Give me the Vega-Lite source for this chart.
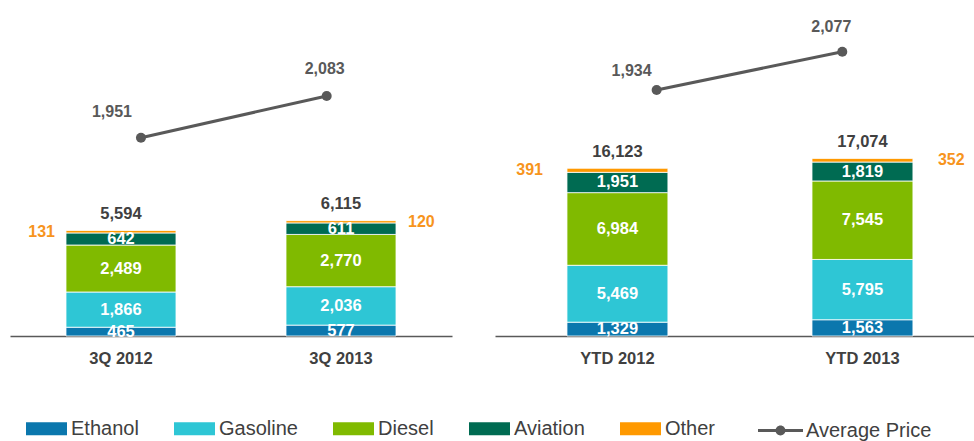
{
  "$schema": "https://vega.github.io/schema/vega-lite/v6.json",
  "padding": {"left": 10, "top": 0, "right": 0, "bottom": 0},
  "bounds": "flush",
  "spacing": 43,
  "config": {
    "view": {"stroke": null},
    "font": "Liberation Sans",
    "text": {"font": "Liberation Sans", "fontWeight": "bold", "fontSize": 16.5},
    "axis": {"grid": false}
  },
  "datasets": {
    "seg": [
      {"panel": "3Q", "period": "3Q 2012", "fuel": "Ethanol", "volume": 465},
      {"panel": "3Q", "period": "3Q 2012", "fuel": "Gasoline", "volume": 1866},
      {"panel": "3Q", "period": "3Q 2012", "fuel": "Diesel", "volume": 2489},
      {"panel": "3Q", "period": "3Q 2012", "fuel": "Aviation", "volume": 642},
      {"panel": "3Q", "period": "3Q 2012", "fuel": "Other", "volume": 131},
      {"panel": "3Q", "period": "3Q 2013", "fuel": "Ethanol", "volume": 577},
      {"panel": "3Q", "period": "3Q 2013", "fuel": "Gasoline", "volume": 2036},
      {"panel": "3Q", "period": "3Q 2013", "fuel": "Diesel", "volume": 2770},
      {"panel": "3Q", "period": "3Q 2013", "fuel": "Aviation", "volume": 611},
      {"panel": "3Q", "period": "3Q 2013", "fuel": "Other", "volume": 120},
      {"panel": "YTD", "period": "YTD 2012", "fuel": "Ethanol", "volume": 1329},
      {"panel": "YTD", "period": "YTD 2012", "fuel": "Gasoline", "volume": 5469},
      {"panel": "YTD", "period": "YTD 2012", "fuel": "Diesel", "volume": 6984},
      {"panel": "YTD", "period": "YTD 2012", "fuel": "Aviation", "volume": 1951},
      {"panel": "YTD", "period": "YTD 2012", "fuel": "Other", "volume": 391},
      {"panel": "YTD", "period": "YTD 2013", "fuel": "Ethanol", "volume": 1563},
      {"panel": "YTD", "period": "YTD 2013", "fuel": "Gasoline", "volume": 5795},
      {"panel": "YTD", "period": "YTD 2013", "fuel": "Diesel", "volume": 7545},
      {"panel": "YTD", "period": "YTD 2013", "fuel": "Aviation", "volume": 1819},
      {"panel": "YTD", "period": "YTD 2013", "fuel": "Other", "volume": 352}
    ],
    "tot": [
      {"panel": "3Q", "period": "3Q 2012", "total": 5594, "price": 1951},
      {"panel": "3Q", "period": "3Q 2013", "total": 6115, "price": 2083},
      {"panel": "YTD", "period": "YTD 2012", "total": 16123, "price": 1934},
      {"panel": "YTD", "period": "YTD 2013", "total": 17074, "price": 2077}
    ]
  },
  "hconcat": [
    {
      "width": 442,
      "height": 336,
      "resolve": {"scale": {"x": "independent", "y": "independent"}},
      "layer": [
        {
          "layer": [
            {
              "data": {"name": "seg"},
              "transform": [
                {"filter": "datum.panel == '3Q'"},
                {"stack": "volume", "groupby": ["period"], "as": ["v0", "v1"]}
              ],
              "layer": [
                {
                  "mark": {"type": "bar", "stroke": "white", "strokeWidth": 0.8},
                  "encoding": {
                    "x": {"field": "period", "type": "nominal", "scale": {"paddingInner": 0.5, "paddingOuter": 0.2545, "align": 0.5},
                      "axis": {"title": null, "ticks": false, "domainColor": "#595959", "domainWidth": 1.5, "labelAngle": 0, "labelFont": "Liberation Sans", "labelFontWeight": "bold", "labelFontSize": 16.5, "labelColor": "#404040", "labelPadding": 14}},
                    "y": {"field": "v0", "type": "quantitative", "scale": {"domain": [0, 17806], "nice": false}, "axis": null},
                    "y2": {"field": "v1"},
                    "color": {"field": "fuel", "type": "nominal",
                      "scale": {"domain": ["Ethanol", "Gasoline", "Diesel", "Aviation", "Other"], "range": ["#0b77ad", "#2ec6d5", "#80ba00", "#006b52", "#ff9900"]},
                      "legend": {"orient": "none", "legendX": 16, "legendY": 408, "direction": "horizontal", "columns": 5, "title": null, "padding": 0,
                        "symbolType": "M-1,-0.317H1V0.317H-1Z", "symbolSize": 1681, "symbolStrokeWidth": 0, "symbolOpacity": 1,
                        "labelFont": "Liberation Sans", "labelFontSize": 20, "labelColor": "#404040", "labelOffset": 4, "columnPadding": 35}}
                  }
                },
                {
                  "transform": [
                    {"filter": "datum.fuel != 'Other'"},
                    {"fold": ["v0", "v1"], "as": ["edge", "pos"]}
                  ],
                  "mark": {"type": "text", "color": "white"},
                  "encoding": {
                    "x": {"field": "period", "type": "nominal"},
                    "y": {"field": "pos", "aggregate": "mean", "type": "quantitative"},
                    "detail": {"field": "fuel", "type": "nominal"},
                    "text": {"field": "volume", "aggregate": "max", "type": "quantitative", "format": ","}
                  }
                },
                {
                  "transform": [
                    {"filter": "datum.fuel == 'Other' && datum.period == '3Q 2012'"},
                    {"fold": ["v0", "v1"], "as": ["edge", "pos"]}
                  ],
                  "mark": {"type": "text", "color": "#f7941d", "fontSize": 16, "align": "right", "dx": -66},
                  "encoding": {
                    "x": {"field": "period", "type": "nominal"},
                    "y": {"field": "pos", "aggregate": "mean", "type": "quantitative"},
                    "text": {"field": "volume", "aggregate": "max", "type": "quantitative", "format": ","}
                  }
                },
                {
                  "transform": [
                    {"filter": "datum.fuel == 'Other' && datum.period == '3Q 2013'"},
                    {"fold": ["v0", "v1"], "as": ["edge", "pos"]}
                  ],
                  "mark": {"type": "text", "color": "#f7941d", "fontSize": 16, "align": "left", "dx": 67},
                  "encoding": {
                    "x": {"field": "period", "type": "nominal"},
                    "y": {"field": "pos", "aggregate": "mean", "type": "quantitative"},
                    "text": {"field": "volume", "aggregate": "max", "type": "quantitative", "format": ","}
                  }
                }
              ]
            },
            {
              "data": {"name": "tot"},
              "transform": [{"filter": "datum.panel == '3Q'"}],
              "mark": {"type": "text", "color": "#404040", "dy": -16.5},
              "encoding": {
                "x": {"field": "period", "type": "nominal"},
                "y": {"field": "total", "type": "quantitative"},
                "text": {"field": "total", "type": "quantitative", "format": ","}
              }
            }
          ]
        },
        {
          "data": {"name": "tot"},
          "transform": [{"filter": "datum.panel == '3Q'"}],
          "encoding": {
            "x": {"field": "period", "type": "nominal", "scale": {"type": "point", "padding": 0.69, "align": 0.511}, "axis": null},
            "y": {"field": "price", "type": "quantitative", "scale": {"domain": [1323.3, 2386.9], "nice": false, "zero": false}, "axis": null}
          },
          "layer": [
            {
              "mark": {"type": "line", "strokeWidth": 3},
              "encoding": {
                "stroke": {"datum": "Average Price", "type": "nominal", "scale": {"range": ["#595959"]},
                  "legend": {"orient": "none", "legendX": 748, "legendY": 408, "title": null, "padding": 0,
                    "symbolType": "M-1,-0.07H1V0.07H-1Z M0.22,0A0.22,0.22 0 1,1 -0.22,0A0.22,0.22 0 1,1 0.22,0Z",
                    "symbolSize": 2025, "symbolFillColor": "#595959", "symbolStrokeWidth": 0,
                    "labelFont": "Liberation Sans", "labelFontSize": 20, "labelColor": "#404040", "labelOffset": 3}}
              }
            },
            {"mark": {"type": "point", "filled": true, "size": 100, "color": "#595959", "opacity": 1}},
            {
              "transform": [{"filter": "datum.period == '3Q 2012'"}],
              "mark": {"type": "text", "color": "#595959", "fontSize": 16, "dx": -29, "dy": -26},
              "encoding": {"text": {"field": "price", "type": "quantitative", "format": ","}}
            },
            {
              "transform": [{"filter": "datum.period == '3Q 2013'"}],
              "mark": {"type": "text", "color": "#595959", "fontSize": 16, "dx": -2, "dy": -27},
              "encoding": {"text": {"field": "price", "type": "quantitative", "format": ","}}
            }
          ]
        }
      ]
    },
    {
      "width": 479,
      "height": 336,
      "resolve": {"scale": {"x": "independent", "y": "independent"}},
      "layer": [
        {
          "layer": [
            {
              "data": {"name": "seg"},
              "transform": [
                {"filter": "datum.panel == 'YTD'"},
                {"stack": "volume", "groupby": ["period"], "as": ["v0", "v1"]}
              ],
              "layer": [
                {
                  "mark": {"type": "bar", "stroke": "white", "strokeWidth": 0.8},
                  "encoding": {
                    "x": {"field": "period", "type": "nominal", "scale": {"paddingInner": 0.588, "paddingOuter": 0.2715, "align": 0.541},
                      "axis": {"title": null, "ticks": false, "domainColor": "#595959", "domainWidth": 1.5, "labelAngle": 0, "labelFont": "Liberation Sans", "labelFontWeight": "bold", "labelFontSize": 16.5, "labelColor": "#404040", "labelPadding": 14}},
                    "y": {"field": "v0", "type": "quantitative", "scale": {"domain": [0, 32300], "nice": false}, "axis": null},
                    "y2": {"field": "v1"},
                    "color": {"field": "fuel", "type": "nominal"}
                  }
                },
                {
                  "transform": [
                    {"filter": "datum.fuel != 'Other'"},
                    {"fold": ["v0", "v1"], "as": ["edge", "pos"]}
                  ],
                  "mark": {"type": "text", "color": "white"},
                  "encoding": {
                    "x": {"field": "period", "type": "nominal"},
                    "y": {"field": "pos", "aggregate": "mean", "type": "quantitative"},
                    "detail": {"field": "fuel", "type": "nominal"},
                    "text": {"field": "volume", "aggregate": "max", "type": "quantitative", "format": ","}
                  }
                },
                {
                  "transform": [
                    {"filter": "datum.fuel == 'Other' && datum.period == 'YTD 2012'"},
                    {"fold": ["v0", "v1"], "as": ["edge", "pos"]}
                  ],
                  "mark": {"type": "text", "color": "#f7941d", "fontSize": 16, "align": "right", "dx": -74.5},
                  "encoding": {
                    "x": {"field": "period", "type": "nominal"},
                    "y": {"field": "pos", "aggregate": "mean", "type": "quantitative"},
                    "text": {"field": "volume", "aggregate": "max", "type": "quantitative", "format": ","}
                  }
                },
                {
                  "transform": [
                    {"filter": "datum.fuel == 'Other' && datum.period == 'YTD 2013'"},
                    {"fold": ["v0", "v1"], "as": ["edge", "pos"]}
                  ],
                  "mark": {"type": "text", "color": "#f7941d", "fontSize": 16, "align": "left", "dx": 75.5},
                  "encoding": {
                    "x": {"field": "period", "type": "nominal"},
                    "y": {"field": "pos", "aggregate": "mean", "type": "quantitative"},
                    "text": {"field": "volume", "aggregate": "max", "type": "quantitative", "format": ","}
                  }
                }
              ]
            },
            {
              "data": {"name": "tot"},
              "transform": [{"filter": "datum.panel == 'YTD'"}],
              "mark": {"type": "text", "color": "#404040", "dy": -16.5},
              "encoding": {
                "x": {"field": "period", "type": "nominal"},
                "y": {"field": "total", "type": "quantitative"},
                "text": {"field": "total", "type": "quantitative", "format": ","}
              }
            }
          ]
        },
        {
          "data": {"name": "tot"},
          "transform": [{"filter": "datum.panel == 'YTD'"}],
          "encoding": {
            "x": {"field": "period", "type": "nominal", "scale": {"type": "point", "padding": 0.79, "align": 0.551}, "axis": null},
            "y": {"field": "price", "type": "quantitative", "scale": {"domain": [1015.4, 2270.1], "nice": false, "zero": false}, "axis": null}
          },
          "layer": [
            {"mark": {"type": "line", "strokeWidth": 3, "color": "#595959"}},
            {"mark": {"type": "point", "filled": true, "size": 100, "color": "#595959", "opacity": 1}},
            {
              "transform": [{"filter": "datum.period == 'YTD 2012'"}],
              "mark": {"type": "text", "color": "#595959", "fontSize": 16, "dx": -25, "dy": -19.5},
              "encoding": {"text": {"field": "price", "type": "quantitative", "format": ","}}
            },
            {
              "transform": [{"filter": "datum.period == 'YTD 2013'"}],
              "mark": {"type": "text", "color": "#595959", "fontSize": 16, "dx": -11, "dy": -25},
              "encoding": {"text": {"field": "price", "type": "quantitative", "format": ","}}
            }
          ]
        }
      ]
    }
  ]
}
